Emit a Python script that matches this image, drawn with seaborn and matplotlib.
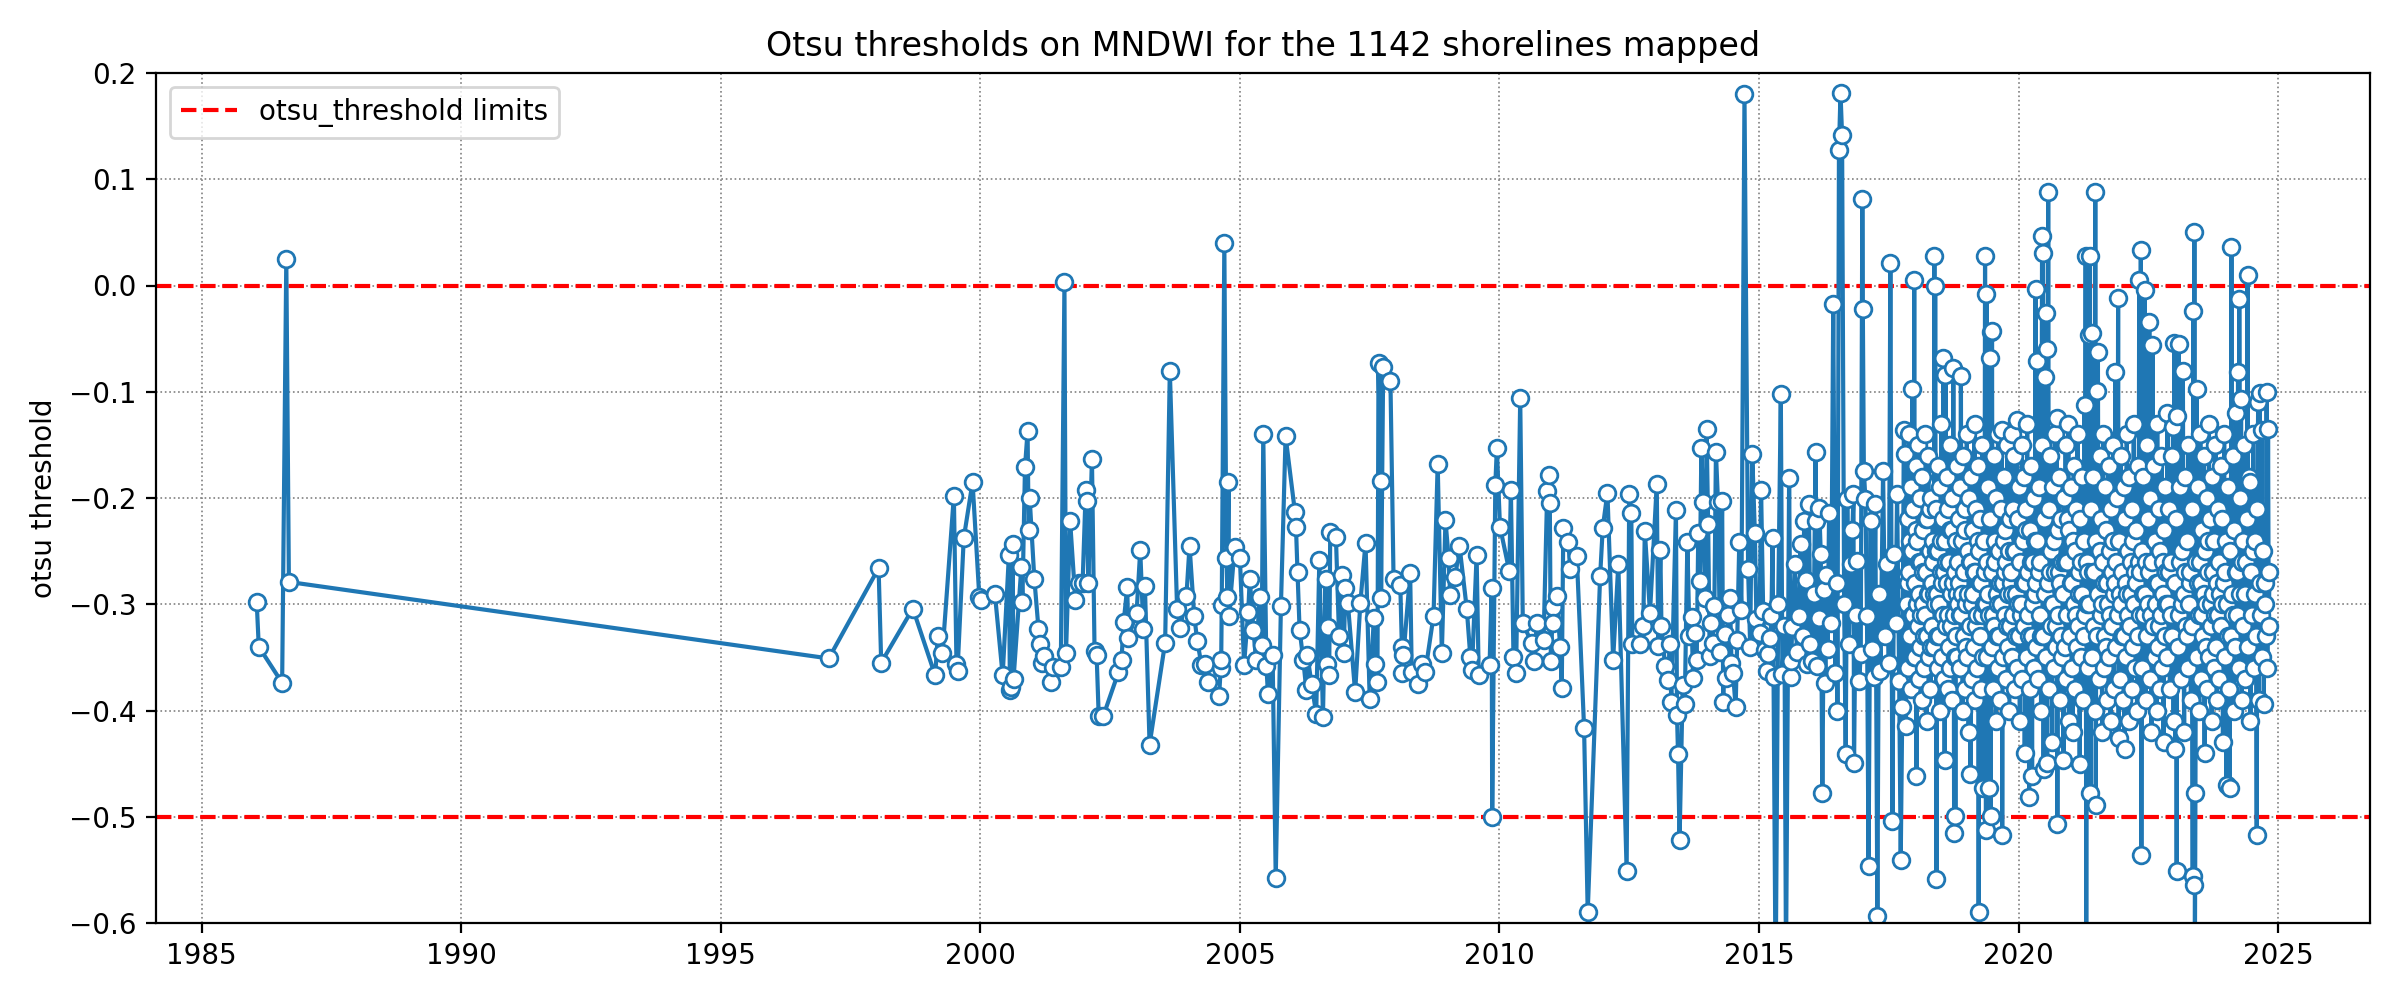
import numpy as np
import pandas as pd
import matplotlib
matplotlib.use("Agg")
import matplotlib.pyplot as plt
import seaborn as sns
from matplotlib.ticker import MultipleLocator, FormatStrFormatter

# ---------------- data ----------------
early_years = [
    1986.06, 1986.10, 1986.55, 1986.63, 1986.68, 1997.08, 1998.04, 1998.09, 1998.70,
    1999.13, 1999.18, 1999.27, 1999.49, 1999.54, 1999.56, 1999.68, 1999.85, 1999.98,
    2000.02, 2000.28, 2000.43, 2000.55, 2000.57, 2000.60, 2000.62, 2000.64, 2000.79,
    2000.81, 2000.86, 2000.91, 2000.93, 2000.95, 2001.04, 2001.12, 2001.14, 2001.18,
    2001.22, 2001.37, 2001.40, 2001.55, 2001.62, 2001.65, 2001.73, 2001.83, 2001.90,
    2001.97, 2002.03, 2002.05, 2002.08, 2002.15, 2002.20, 2002.24, 2002.28, 2002.37,
    2002.66, 2002.72, 2002.76, 2002.83, 2002.85, 2003.01, 2003.08, 2003.14, 2003.17,
    2003.26, 2003.56, 2003.65, 2003.79, 2003.85, 2003.97, 2004.03, 2004.12, 2004.18,
    2004.26, 2004.32, 2004.38, 2004.60, 2004.63, 2004.64, 2004.65, 2004.70, 2004.74,
    2004.76, 2004.78, 2004.79, 2004.90, 2005.00, 2005.08, 2005.16, 2005.19, 2005.26,
    2005.31, 2005.38, 2005.42, 2005.45, 2005.51, 2005.54, 2005.63, 2005.69, 2005.79,
    2005.88, 2006.06, 2006.08, 2006.11, 2006.15, 2006.22, 2006.28, 2006.30, 2006.38,
    2006.47, 2006.53, 2006.60, 2006.65, 2006.67, 2006.70, 2006.72, 2006.74, 2006.85,
    2006.91, 2006.97, 2007.00, 2007.03, 2007.08, 2007.22, 2007.32, 2007.42, 2007.50,
    2007.58, 2007.61, 2007.65, 2007.67, 2007.71, 2007.72, 2007.76, 2007.90, 2007.96,
    2008.09, 2008.12, 2008.13, 2008.15, 2008.28, 2008.31, 2008.44, 2008.51, 2008.57,
    2008.73, 2008.81, 2008.89, 2008.96, 2009.02, 2009.05, 2009.15, 2009.23, 2009.37,
    2009.44, 2009.47, 2009.56, 2009.60, 2009.81, 2009.85, 2009.86, 2009.92, 2009.95,
    2010.01, 2010.19, 2010.22, 2010.27, 2010.32, 2010.40, 2010.45, 2010.62, 2010.67,
    2010.72, 2010.85, 2010.92, 2010.96, 2010.97, 2010.99, 2011.03, 2011.04, 2011.10,
    2011.17, 2011.20, 2011.23, 2011.33, 2011.36, 2011.49, 2011.63, 2011.70, 2011.94,
    2011.99, 2012.08, 2012.19, 2012.29, 2012.45, 2012.50, 2012.54, 2012.56, 2012.71,
    2012.77, 2012.80, 2012.90, 2013.03, 2013.06, 2013.10, 2013.12, 2013.19, 2013.25,
    2013.28, 2013.31, 2013.40, 2013.42, 2013.44, 2013.47, 2013.53, 2013.57, 2013.62,
    2013.66, 2013.70, 2013.73, 2013.76, 2013.80, 2013.83, 2013.86, 2013.89, 2013.92,
    2013.96, 2013.99, 2014.02, 2014.05, 2014.08, 2014.11, 2014.14, 2014.17, 2014.21,
    2014.25, 2014.29, 2014.31, 2014.34, 2014.37, 2014.41, 2014.44, 2014.47, 2014.50,
    2014.55, 2014.58, 2014.62, 2014.66, 2014.72, 2014.79, 2014.83, 2014.87, 2014.92,
    2014.95, 2015.01, 2015.04, 2015.08, 2015.11,
]
early_vals = [
    -0.298, -0.340, -0.374, 0.025, -0.279, -0.351, -0.266, -0.355, -0.304,
    -0.367, -0.330, -0.346, -0.198, -0.356, -0.363, -0.238, -0.185, -0.293,
    -0.296, -0.290, -0.367, -0.254, -0.381, -0.378, -0.243, -0.370, -0.265,
    -0.298, -0.171, -0.137, -0.230, -0.200, -0.276, -0.323, -0.337, -0.355,
    -0.349, -0.373, -0.359, -0.359, 0.003, -0.346, -0.222, -0.296, -0.280,
    -0.280, -0.192, -0.203, -0.280, -0.163, -0.344, -0.348, -0.405, -0.405,
    -0.364, -0.352, -0.317, -0.284, -0.332, -0.308, -0.249, -0.323, -0.283,
    -0.432, -0.336, -0.080, -0.304, -0.322, -0.292, -0.245, -0.311, -0.335,
    -0.357, -0.356, -0.373, -0.386, -0.360, -0.352, -0.301, 0.040, -0.256,
    -0.293, -0.185, -0.311, -0.246, -0.256, -0.357, -0.307, -0.276, -0.324,
    -0.352, -0.293, -0.338, -0.140, -0.358, -0.384, -0.348, -0.558, -0.302,
    -0.142, -0.213, -0.227, -0.270, -0.324, -0.352, -0.381, -0.348, -0.375,
    -0.403, -0.258, -0.406, -0.276, -0.356, -0.321, -0.367, -0.232, -0.237,
    -0.330, -0.272, -0.346, -0.285, -0.299, -0.383, -0.299, -0.242, -0.389,
    -0.313, -0.356, -0.373, -0.073, -0.184, -0.294, -0.077, -0.090, -0.276,
    -0.282, -0.340, -0.365, -0.348, -0.271, -0.364, -0.375, -0.356, -0.364,
    -0.311, -0.168, -0.346, -0.221, -0.256, -0.291, -0.274, -0.245, -0.304,
    -0.350, -0.362, -0.254, -0.367, -0.357, -0.285, -0.500, -0.188, -0.153,
    -0.227, -0.269, -0.192, -0.350, -0.365, -0.106, -0.318, -0.336, -0.353,
    -0.318, -0.334, -0.193, -0.178, -0.205, -0.353, -0.303, -0.318, -0.292,
    -0.340, -0.379, -0.228, -0.241, -0.267, -0.255, -0.416, -0.590, -0.273,
    -0.228, -0.195, -0.352, -0.262, -0.551, -0.196, -0.214, -0.337, -0.337,
    -0.320, -0.231, -0.308, -0.187, -0.339, -0.249, -0.320, -0.358, -0.371,
    -0.337, -0.392, -0.211, -0.404, -0.441, -0.522, -0.376, -0.394, -0.241,
    -0.330, -0.312, -0.369, -0.327, -0.352, -0.233, -0.278, -0.153, -0.204,
    -0.294, -0.135, -0.224, -0.349, -0.318, -0.336, -0.302, -0.157, -0.204,
    -0.345, -0.203, -0.392, -0.328, -0.369, -0.310, -0.294, -0.355, -0.365,
    -0.397, -0.334, -0.241, -0.305, 0.180, -0.267, -0.340, -0.159, -0.233,
    -0.314, -0.327, -0.192, -0.306, -0.343,
]

mid_years = [
    2015.15, 2015.17, 2015.22, 2015.24, 2015.26, 2015.28, 2015.32, 2015.37, 2015.42,
    2015.45, 2015.49, 2015.52, 2015.58, 2015.61, 2015.62, 2015.64, 2015.69, 2015.73,
    2015.77, 2015.80, 2015.84, 2015.87, 2015.90, 2015.93, 2015.96, 2015.99, 2016.03,
    2016.06, 2016.09, 2016.10, 2016.12, 2016.15, 2016.16, 2016.19, 2016.22, 2016.25,
    2016.28, 2016.29, 2016.32, 2016.35, 2016.39, 2016.43, 2016.47, 2016.50, 2016.51,
    2016.54, 2016.57, 2016.60, 2016.64, 2016.67, 2016.70, 2016.73, 2016.77, 2016.80,
    2016.82, 2016.83, 2016.86, 2016.89, 2016.93, 2016.96, 2016.99, 2017.00, 2017.02,
    2017.05, 2017.08, 2017.11, 2017.15, 2017.18, 2017.21, 2017.24, 2017.28, 2017.31,
    2017.34, 2017.39, 2017.43, 2017.47, 2017.50, 2017.53, 2017.57, 2017.60, 2017.63,
    2017.66, 2017.70, 2017.73, 2017.76, 2017.79, 2017.81, 2017.83,
]
mid_vals = [
    -0.363, -0.347, -0.332, -0.311, -0.238, -0.368, -0.660, -0.300, -0.102,
    -0.366, -0.320, -0.640, -0.181, -0.368, -0.353, -0.321, -0.262, -0.345,
    -0.311, -0.243, -0.330, -0.222, -0.277, -0.356, -0.206, -0.337, -0.353,
    -0.290, -0.157, -0.222, -0.358, -0.313, -0.209, -0.253, -0.478, -0.287,
    -0.374, -0.272, -0.342, -0.214, -0.318, -0.017, -0.365, -0.280, -0.400,
    0.128, 0.181, 0.142, -0.300, -0.441, -0.201, -0.337, -0.262, -0.230,
    -0.196, -0.449, -0.310, -0.259, -0.372, -0.347, 0.081, -0.022, -0.175,
    -0.201, -0.311, -0.546, -0.222, -0.342, -0.368, -0.206, -0.593, -0.290,
    -0.363, -0.175, -0.330, -0.262, -0.355, 0.021, -0.504, -0.253, -0.318,
    -0.196, -0.372, -0.541, -0.397, -0.136, -0.159, -0.415,
]

# dense recent period: values per half-year block, in time order
block_edges = [2017.85, 2018.35, 2018.85, 2019.35, 2019.85, 2020.35, 2020.85,
               2021.35, 2021.85, 2022.35, 2022.85, 2023.35, 2023.85, 2024.35, 2024.84]
block_01 = [-0.30, -0.22, -0.36, -0.28, -0.14, -0.27, -0.33, -0.24, -0.19, -0.38, -0.25, -0.31,
            -0.097, -0.31, -0.21, -0.35, 0.005, -0.35, -0.28, -0.23, -0.17, -0.462, -0.24, -0.30,
            -0.32, -0.15, -0.37, -0.26, -0.29, -0.20, -0.34, -0.31, -0.26, -0.39, -0.18, -0.27,
            -0.30, -0.23, -0.36, -0.33, -0.14, -0.31, -0.27, -0.22, -0.41, -0.22, -0.33, -0.29,
            -0.16, -0.29, -0.35, -0.21, -0.25, -0.38, -0.20, -0.34, -0.32, -0.28, -0.24]
block_02 = [-0.26, -0.34, -0.29, 0.028, -0.30, 0.0, -0.25, -0.21, -0.559, -0.29, -0.33, -0.17,
            -0.36, -0.25, -0.30, -0.33, -0.19, -0.40, -0.24, -0.27, -0.13, -0.35, -0.28, -0.22,
            -0.31, -0.068, -0.37, -0.27, -0.447, -0.24, -0.084, -0.32, -0.26, -0.18, -0.28, -0.38,
            -0.31, -0.21, -0.34, -0.26, -0.23, -0.15, -0.36, -0.29, -0.32, -0.23, -0.39, -0.20,
            -0.28, -0.078, -0.31, -0.515, -0.27, -0.35, -0.499, -0.33, -0.24, -0.29, -0.17, -0.35,
            -0.30, -0.26, -0.22]
block_03 = [-0.28, -0.19, -0.31, -0.36, -0.085, -0.31, -0.24, -0.29, -0.40, -0.16, -0.33, -0.27,
            -0.23, -0.21, -0.38, -0.30, -0.34, -0.14, -0.35, -0.25, -0.29, -0.42, -0.20, -0.32,
            -0.26, -0.460, -0.26, -0.18, -0.30, -0.37, -0.29, -0.23, -0.34, -0.27, -0.13, -0.39,
            -0.27, -0.32, -0.21, -0.31, -0.36, -0.24, -0.17, -0.590, -0.25, -0.33, -0.28, -0.22,
            -0.38, -0.28, -0.31, -0.15, -0.35, -0.473, -0.24, -0.30, -0.27]
block_04 = [0.028, -0.30, -0.512, -0.008, -0.26, -0.35, -0.29, -0.19, -0.31, -0.473, -0.22, -0.068,
            -0.499, -0.044, -0.34, -0.043, -0.27, -0.31, -0.38, -0.16, -0.32, -0.26, -0.24, -0.41,
            -0.20, -0.33, -0.29, -0.36, -0.14, -0.30, -0.33, -0.25, -0.39, -0.28, -0.21, -0.30,
            -0.136, -0.517, -0.28, -0.35, -0.24, -0.18, -0.31, -0.27, -0.23, -0.37, -0.26, -0.32,
            -0.15, -0.34, -0.29, -0.25, -0.40, -0.22, -0.32, -0.28]
block_05 = [-0.27, -0.14, -0.35, -0.29, -0.21, -0.31, -0.25, -0.16, -0.38, -0.25, -0.33, -0.29,
            -0.127, -0.36, -0.22, -0.30, -0.33, -0.19, -0.41, -0.26, -0.31, -0.30, -0.15, -0.37,
            -0.24, -0.28, -0.32, -0.18, -0.44, -0.28, -0.23, -0.21, -0.35, -0.13, -0.31, -0.27,
            -0.33, -0.481, -0.23, -0.38, -0.26, -0.17, -0.33, -0.462, -0.26, -0.30, -0.20, -0.36,
            -0.29, -0.24, -0.003, -0.34, -0.28]
block_06 = [-0.24, -0.071, -0.37, -0.27, -0.19, -0.31, -0.26, -0.33, -0.40, -0.15, 0.047, -0.33,
            0.031, -0.455, -0.22, -0.29, -0.086, -0.35, -0.026, -0.060, -0.449, -0.28, 0.088, -0.21,
            -0.38, -0.27, -0.16, -0.32, -0.25, -0.30, -0.43, -0.19, -0.30, -0.24, -0.36, -0.14,
            -0.27, -0.32, -0.34, -0.125, -0.507, -0.23, -0.31, -0.27, -0.18, -0.39, -0.28, -0.33,
            -0.22, -0.35, -0.26]
block_07 = [-0.29, -0.447, -0.20, -0.34, -0.26, -0.15, -0.37, -0.26, -0.31, -0.22, -0.13, -0.41,
            -0.23, -0.33, -0.28, -0.19, -0.36, -0.28, -0.42, -0.24, -0.17, -0.30, -0.25, -0.38,
            -0.31, -0.21, -0.34, -0.14, -0.32, -0.27, -0.29, -0.45, -0.22, -0.35, -0.26, -0.18,
            -0.29, -0.39, -0.24, -0.33, -0.112, -0.31, 0.028, -0.63, -0.26, -0.30, -0.36, -0.27]
block_08 = [-0.047, -0.30, 0.028, -0.478, -0.21, -0.045, -0.35, -0.27, -0.18, -0.32, -0.27, -0.40,
            0.088, -0.489, -0.24, -0.099, -0.33, -0.063, -0.29, -0.37, -0.25, -0.16, -0.31, -0.22,
            -0.30, -0.42, -0.26, -0.14, -0.36, -0.28, -0.33, -0.19, -0.34, -0.23, -0.28, -0.39,
            -0.30, -0.17, -0.35, -0.25, -0.31, -0.41, -0.21, -0.32, -0.27, -0.24, -0.15, -0.38,
            -0.29]
block_09 = [-0.28, -0.081, -0.34, -0.26, -0.20, -0.31, -0.012, -0.426, -0.24, -0.37, -0.29, -0.16,
            -0.30, -0.27, -0.33, -0.39, -0.19, -0.33, -0.436, -0.22, -0.35, -0.28, -0.14, -0.29,
            -0.25, -0.31, -0.41, -0.18, -0.32, -0.26, -0.29, -0.38, -0.21, -0.34, -0.24, -0.13,
            -0.30, -0.36, -0.27, -0.23, -0.28, -0.40, -0.17, -0.33, -0.26, 0.005, -0.27, -0.31]
block_10 = [0.033, -0.536, -0.25, -0.36, -0.29, -0.18, -0.31, -0.004, -0.29, -0.39, -0.26, -0.15,
            -0.33, -0.22, -0.30, -0.27, -0.034, -0.37, -0.20, -0.31, -0.42, -0.26, -0.056, -0.32,
            -0.24, -0.17, -0.35, -0.24, -0.30, -0.28, -0.40, -0.13, -0.34, -0.28, -0.21, -0.32,
            -0.38, -0.25, -0.31, -0.16, -0.36, -0.29, -0.26, -0.43, -0.23, -0.33, -0.19, -0.30,
            -0.27]
block_11 = [-0.35, -0.120, -0.30, -0.27, -0.21, -0.38, -0.26, -0.31, -0.16, -0.33, -0.133, -0.41,
            -0.054, -0.28, -0.436, -0.22, -0.551, -0.123, -0.34, -0.055, -0.31, -0.26, -0.19, -0.37,
            -0.25, -0.30, -0.080, -0.29, -0.42, -0.27, -0.18, -0.32, -0.24, -0.33, -0.36, -0.15,
            -0.30, -0.28, -0.27, -0.39, -0.21, -0.32]
block_12 = [-0.556, -0.024, -0.564, 0.050, -0.63, -0.478, -0.26, -0.097, -0.35, -0.28, -0.19, -0.31,
            -0.40, -0.26, -0.14, -0.28, -0.37, -0.31, -0.23, -0.33, -0.16, -0.29, -0.44, -0.25,
            -0.30, -0.34, -0.20, -0.38, -0.27, -0.24, -0.13, -0.35, -0.22, -0.30, -0.32, -0.41,
            -0.18, -0.27, -0.29, -0.36, -0.24, -0.31, -0.15, -0.34, -0.28, -0.39, -0.21, -0.31]
block_13 = [-0.26, -0.37, -0.29, -0.17, -0.32, -0.22, -0.30, -0.43, -0.28, -0.14, -0.35, -0.27,
            -0.24, -0.470, -0.30, -0.19, -0.33, -0.38, -0.473, -0.25, -0.33, 0.036, -0.29, -0.16,
            -0.31, -0.40, -0.23, -0.34, -0.27, -0.12, -0.31, -0.27, -0.081, -0.36, -0.013, -0.20,
            -0.29, -0.107, -0.39, -0.26, -0.32, -0.24, -0.15]
block_14 = [-0.29, -0.37, -0.26, -0.22, 0.010, -0.34, -0.18, -0.185, -0.41, -0.27, -0.31, -0.25,
            -0.14, -0.36, -0.24, -0.29, -0.33, -0.517, -0.21, -0.110, -0.39, -0.101, -0.28, -0.31,
            -0.136, -0.35, -0.25, -0.394, -0.280, -0.30, -0.33, -0.10, -0.36, -0.135, -0.32, -0.27]

limit_values = [0.0, -0.5]

# ---------------- assemble table ----------------
blocks = [block_01, block_02, block_03, block_04, block_05, block_06, block_07,
          block_08, block_09, block_10, block_11, block_12, block_13, block_14]
dense_years, dense_vals = [], []
for i, b in enumerate(blocks):
    t0, t1 = block_edges[i], block_edges[i + 1]
    dense_years.extend(np.linspace(t0, t1, len(b), endpoint=False) + (t1 - t0) / len(b) / 2)
    dense_vals.extend(b)

df = pd.DataFrame({
    "year": list(early_years) + list(mid_years) + list(dense_years),
    "otsu threshold": list(early_vals) + list(mid_vals) + list(dense_vals),
})

# ---------------- plot ----------------
fig, ax = plt.subplots(figsize=(12, 5), dpi=200)
fig.subplots_adjust(left=0.065, right=0.9875, bottom=0.077, top=0.927)

ax.set_axisbelow(True)
ax.grid(True, linestyle=":", linewidth=0.6, color="gray")

for k, v in enumerate(limit_values):
    ax.axhline(v, color="red", linestyle="--", linewidth=1.5, zorder=1.5,
               label="otsu_threshold limits" if k == 0 else None)

sns.lineplot(data=df, x="year", y="otsu threshold", ax=ax, color="C0",
             marker="o", markersize=6, markerfacecolor="white",
             markeredgecolor="C0", markeredgewidth=1.0, linewidth=1.5,
             estimator=None, sort=False, legend=False, zorder=2)

ax.set_ylim(-0.6, 0.2)
ax.set_xlim(1984.12, 2026.77)
ax.xaxis.set_major_locator(MultipleLocator(5))
ax.xaxis.set_major_formatter(FormatStrFormatter("%d"))
ax.yaxis.set_major_locator(MultipleLocator(0.1))
ax.set_xlabel("")
ax.set_ylabel("otsu threshold")
ax.set_title("Otsu thresholds on MNDWI for the 1142 shorelines mapped")
ax.legend(loc="upper left")

fig.savefig("out.png", dpi=200)
